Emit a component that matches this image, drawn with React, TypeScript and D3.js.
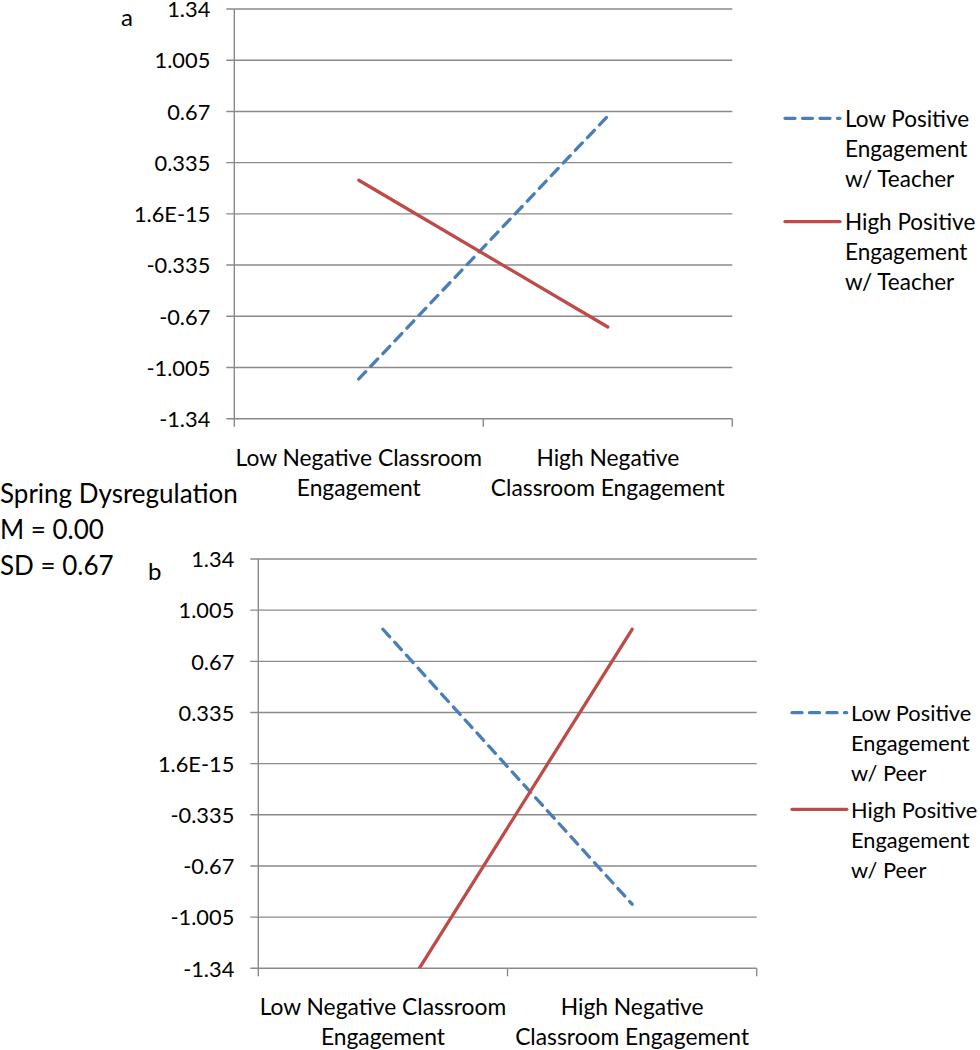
import React from "react";
import * as d3 from "d3";

const categories = ["Low Negative Classroom Engagement", "High Negative Classroom Engagement"];
const categoryLines = [["Low Negative Classroom", "Engagement"], ["High Negative", "Classroom Engagement"]];
const yTicks = [1.34, 1.005, 0.67, 0.335, 1.6e-15, -0.335, -0.67, -1.005, -1.34];
const yTickLabels = ["1.34", "1.005", "0.67", "0.335", "1.6E-15", "-0.335", "-0.67", "-1.005", "-1.34"];

const teacherLow = [-1.08, 0.64];
const teacherHigh = [0.22, -0.74];
const peerLow = [0.88, -0.92];
const peerHigh = [-1.72, 0.88];

const legendTeacher = [["Low Positive", "Engagement", "w/ Teacher"], ["High Positive", "Engagement", "w/ Teacher"]];
const legendPeer = [["Low Positive", "Engagement", "w/ Peer"], ["High Positive", "Engagement", "w/ Peer"]];
const noteLines = ["Spring Dysregulation", "M = 0.00", "SD = 0.67"];

const BLUE = "#4A7EBB";
const RED = "#BE4B48";
const GRID = "#8a8a8a";
const FONT = "Lato, 'Open Sans', sans-serif";
const FS_TICK = 21.8;
const FS_NOTE = 26;

type PanelProps = {
  id: string;
  letter: string;
  letterX: number;
  letterY: number;
  left: number;
  right: number;
  top: number;
  bottom: number;
  low: number[];
  high: number[];
  legend: string[][];
  legFs: number;
  legLineX0: number;
  legLineX1: number;
  legTextX: number;
  legY: number[];
};

function Panel(p: PanelProps) {
  const y = d3.scaleLinear().domain([-1.34, 1.34]).range([p.bottom, p.top]);
  const x = d3.scaleBand().domain(categories).range([p.left, p.right]).paddingInner(0).paddingOuter(0);
  const cx = (c: string) => (x(c) as number) + x.bandwidth() / 2;
  const line = d3
    .line<number>()
    .x((_, i) => cx(categories[i]))
    .y((v) => y(v));
  const tickXs = [p.left, ...categories.map((c) => (x(c) as number) + x.bandwidth())];
  return (
    <g>
      <defs>
        <clipPath id={`clip-${p.id}`}>
          <rect x={p.left} y={p.top - 2} width={p.right - p.left} height={p.bottom - p.top + 2} />
        </clipPath>
      </defs>
      <text x={p.letterX} y={p.letterY} fontFamily={FONT} fontSize={24} fill="#000">
        {p.letter}
      </text>
      {yTicks.map((t, i) => (
        <g key={i}>
          <line x1={p.left - 8} x2={p.right} y1={y(t)} y2={y(t)} stroke={GRID} strokeWidth={1.4} />
          <text
            x={p.left - 24}
            y={y(t)}
            dy="0.38em"
            textAnchor="end"
            fontFamily={FONT}
            fontSize={FS_TICK}
            fill="#000"
          >
            {yTickLabels[i]}
          </text>
        </g>
      ))}
      <line x1={p.left} x2={p.left} y1={p.top} y2={p.bottom} stroke={GRID} strokeWidth={1.4} />
      {tickXs.map((tx, i) => (
        <line key={i} x1={tx} x2={tx} y1={p.bottom} y2={p.bottom + 8} stroke={GRID} strokeWidth={1.4} />
      ))}
      {categories.map((c, i) => (
        <text key={c} textAnchor="middle" fontFamily={FONT} fontSize={22.8} fill="#000">
          {categoryLines[i].map((ln, j) => (
            <tspan key={j} x={cx(c)} y={p.bottom + 47 + j * 30}>
              {ln}
            </tspan>
          ))}
        </text>
      ))}
      <g clipPath={`url(#clip-${p.id})`}>
        <path
          d={line(p.low) || ""}
          fill="none"
          stroke={BLUE}
          strokeWidth={3.3}
          strokeDasharray="10,7.5"
          strokeLinecap="round"
        />
        <path d={line(p.high) || ""} fill="none" stroke={RED} strokeWidth={3.3} strokeLinecap="round" />
      </g>
      {p.legend.map((lines, k) => (
        <g key={k}>
          <line
            x1={p.legLineX0}
            x2={p.legLineX1}
            y1={p.legY[k]}
            y2={p.legY[k]}
            stroke={k === 0 ? BLUE : RED}
            strokeWidth={3.3}
            strokeDasharray={k === 0 ? "10,7.5" : undefined}
            strokeLinecap="round"
          />
          <text fontFamily={FONT} fontSize={p.legFs} fill="#000">
            {lines.map((ln, j) => (
              <tspan key={j} x={p.legTextX} y={p.legY[k] + 8.5 + j * 30}>
                {ln}
              </tspan>
            ))}
          </text>
        </g>
      ))}
    </g>
  );
}

export default function App() {
  return (
    <svg
      width={980}
      height={1050}
      style={{ position: "absolute", left: 0, top: 0, background: "#fff" }}
    >
      <rect x={0} y={0} width={980} height={1050} fill="#fff" />
      <Panel
        id="a"
        letter="a"
        letterX={121}
        letterY={26}
        left={234.3}
        right={732.3}
        top={9}
        bottom={418.7}
        low={teacherLow}
        high={teacherHigh}
        legend={legendTeacher}
        legFs={22.5}
        legLineX0={785}
        legLineX1={840}
        legTextX={845}
        legY={[118.3, 221.7]}
      />
      <Panel
        id="b"
        letter="b"
        letterX={148}
        letterY={580}
        left={258.3}
        right={756.7}
        top={559}
        bottom={968.3}
        low={peerLow}
        high={peerHigh}
        legend={legendPeer}
        legFs={21.8}
        legLineX0={792}
        legLineX1={846.7}
        legTextX={851}
        legY={[712.7, 809.3]}
      />
      <text fontFamily={FONT} fontSize={FS_NOTE} fill="#000">
        {noteLines.map((ln, j) => (
          <tspan key={j} x={0} y={503.3 + j * 36}>
            {ln}
          </tspan>
        ))}
      </text>
    </svg>
  );
}
